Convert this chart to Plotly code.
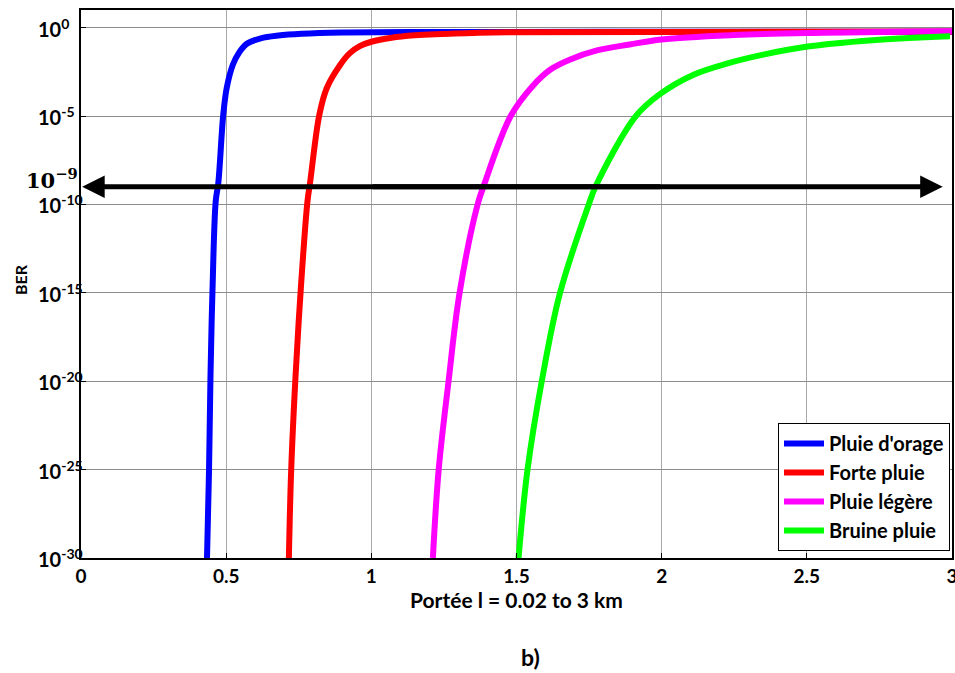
import math
import plotly.graph_objects as go

# ---- data (distance in km, BER) ----
orage_x = [0.434, 0.441, 0.446, 0.453, 0.464, 0.473, 0.490, 0.502, 0.523, 0.545, 0.570, 0.619, 0.680, 0.760, 0.900, 1.200, 2.000, 3.000]
orage_ber = [1e-30, 1e-25, 2e-20, 1.6e-15, 1.5e-10, 1.7e-9, 1.2e-5, 4e-4, 8e-3, 4e-2, 0.12, 0.25, 0.36, 0.45, 0.53, 0.57, 0.58, 0.59]

forte_x = [0.716, 0.724, 0.739, 0.757, 0.780, 0.789, 0.821, 0.847, 0.893, 0.925, 0.960, 1.000, 1.070, 1.150, 1.220, 1.350, 1.470, 2.000, 3.000]
forte_ber = [1e-30, 1e-25, 2e-20, 1.6e-15, 1.5e-10, 1.7e-9, 1.2e-5, 4e-4, 8e-3, 3.5e-2, 0.09, 0.16, 0.27, 0.37, 0.43, 0.5, 0.55, 0.575, 0.6]

legere_x = [1.212, 1.232, 1.266, 1.304, 1.366, 1.386, 1.480, 1.555, 1.617, 1.685, 1.777, 1.890, 2.000, 2.250, 2.500, 3.000]
legere_ber = [1e-30, 1e-25, 1e-20, 1e-15, 1e-10, 1e-9, 1e-5, 4.9e-4, 4.3e-3, 1.6e-2, 5.2e-2, 0.112, 0.214, 0.38, 0.5, 0.63]

bruine_x = [1.507, 1.538, 1.587, 1.650, 1.749, 1.772, 1.911, 1.995, 2.110, 2.233, 2.350, 2.497, 2.726, 2.993]
bruine_ber = [1e-30, 1e-25, 1e-20, 1e-15, 1e-10, 1e-9, 1e-5, 1.8e-4, 2.2e-3, 1.02e-2, 3.0e-2, 8.3e-2, 0.195, 0.33]

series_names = ["Pluie d'orage", "Forte pluie", "Pluie légère", "Bruine pluie"]
series_colors = ["#0000ff", "#ff0000", "#ff00ff", "#00ff00"]

x_tickvals = [0, 0.5, 1, 1.5, 2, 2.5, 3]
x_ticktext = ["0", "0.5", "1", "1.5", "2", "2.5", "3"]
y_tickvals = [1e0, 1e-5, 1e-10, 1e-15, 1e-20, 1e-25, 1e-30]
y_ticktext = ["10<sup>0</sup>", "10<sup>-5</sup>", "10<sup>-10</sup>", "10<sup>-15</sup>",
              "10<sup>-20</sup>", "10<sup>-25</sup>", "10<sup>-30</sup>"]

threshold_ber = 1e-9
x_title = "Portée l = 0.02 to 3 km"
y_title = "BER"
caption = "b)"

FONT = "Lato"
L, R, T, B, W, H = 81, 3, 10, 115, 955, 673
PW, PH = W - L - R, H - T - B


def px_x(p):
    return (p - L) / PW


def px_y(p):
    return (H - B - p) / PH


fig = go.Figure()
for xs, ys, name, col in zip([orage_x, forte_x, legere_x, bruine_x],
                             [orage_ber, forte_ber, legere_ber, bruine_ber],
                             series_names, series_colors):
    fig.add_trace(go.Scatter(x=xs, y=ys, mode="lines", name=name,
                             line=dict(color=col, width=6, shape="spline", smoothing=1.0)))

ty = math.log10(threshold_ber)
# double-headed arrow at the threshold
fig.add_annotation(x=0.004, y=ty, ax=2.0, ay=ty, xref="x", yref="y", axref="x", ayref="y",
                   text="", showarrow=True, arrowhead=2, arrowsize=0.9, arrowwidth=5,
                   arrowcolor="black", standoff=0)
fig.add_annotation(x=2.968, y=ty, ax=1.0, ay=ty, xref="x", yref="y", axref="x", ayref="y",
                   text="", showarrow=True, arrowhead=2, arrowsize=0.9, arrowwidth=5,
                   arrowcolor="black", standoff=0)
fig.add_annotation(x=px_x(52), y=px_y(179), xref="paper", yref="paper", text="10<sup>−9</sup>",
                   xanchor="center", yanchor="middle", showarrow=False,
                   font=dict(family="DejaVu Serif", size=21, color="black", weight="bold"))
fig.add_annotation(x=px_x(530), y=px_y(657), xref="paper", yref="paper", text=caption,
                   xanchor="center", yanchor="middle", showarrow=False,
                   font=dict(family=FONT, size=23, color="black", weight="bold"))

# y tick labels, left-aligned as in the reference
for v, t in zip(y_tickvals, y_ticktext):
    fig.add_annotation(x=px_x(36), y=math.log10(v), xref="paper", yref="y", text=t,
                       xanchor="left", yanchor="middle", showarrow=False,
                       font=dict(family=FONT, size=20, color="black", weight="bold"))
fig.add_annotation(x=px_x(20), y=px_y(280), xref="paper", yref="paper", text=y_title,
                   textangle=-90, xanchor="center", yanchor="middle", showarrow=False,
                   font=dict(family=FONT, size=16, color="black", weight="bold"))

fig.update_layout(
    width=W, height=H,
    margin=dict(l=L, r=R, t=T, b=B, autoexpand=False),
    paper_bgcolor="white", plot_bgcolor="white",
    font=dict(family=FONT, color="black", weight="bold"),
    showlegend=True,
    legend=dict(x=px_x(950), y=px_y(551), xanchor="right", yanchor="bottom",
                bgcolor="white", bordercolor="black", borderwidth=1,
                font=dict(family=FONT, size=20, color="black", weight="bold"),
                tracegroupgap=0, itemwidth=40),
)
fig.update_xaxes(range=[0, 3], tickvals=x_tickvals, ticktext=x_ticktext,
                 showgrid=True, gridcolor="#a8a8a8", gridwidth=1,
                 showline=True, linecolor="black", linewidth=2, mirror=True,
                 ticks="inside", ticklen=5, tickcolor="black", zeroline=False,
                 ticklabeloverflow="allow", automargin=False,
                 tickfont=dict(family=FONT, size=19, weight="bold"),
                 title=dict(text=x_title, font=dict(family=FONT, size=21, weight="bold"), standoff=0))
fig.update_yaxes(type="log", range=[-30, 1], tickvals=y_tickvals, showticklabels=False,
                 showgrid=True, gridcolor="#8c8c8c", gridwidth=1, automargin=False,
                 showline=True, linecolor="black", linewidth=2, mirror=True,
                 ticks="inside", ticklen=5, tickcolor="black", zeroline=False)

fig.write_html("out.html")
